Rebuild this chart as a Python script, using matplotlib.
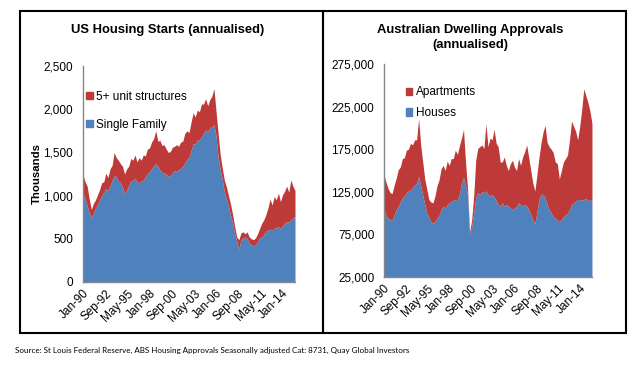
import numpy as np
import matplotlib.pyplot as plt
from matplotlib.patches import Patch, Rectangle

# quarterly readings, Jan-90 to Jul-15
us_total = [1240, 1160, 1110, 960, 840, 910, 950, 1010, 1070, 1150, 1160, 1260,
            1210, 1310, 1350, 1500, 1440, 1410, 1370, 1340, 1250, 1310, 1340, 1430,
            1410, 1470, 1390, 1440, 1410, 1470, 1460, 1540, 1550, 1620, 1660, 1750,
            1630, 1640, 1580, 1590, 1540, 1500, 1510, 1560, 1570, 1590, 1570, 1620,
            1630, 1720, 1750, 1730, 1850, 1960, 1910, 1990, 1970, 2060, 2060, 2120,
            2040, 2110, 2150, 2240, 1980, 1720, 1480, 1320, 1180, 1100, 1000, 900,
            780, 640, 520, 490, 570, 580, 560, 580, 520, 500, 490, 510,
            560, 620, 680, 720, 780, 860, 960, 890, 990, 950, 1030, 930,
            1010, 1050, 1110, 1040, 1180, 1110, 1060]
us_single = [1030, 960, 880, 800, 740, 800, 850, 900, 950, 1000, 1040, 1080,
             1060, 1110, 1180, 1230, 1220, 1170, 1150, 1100, 1020, 1060, 1120, 1170,
             1180, 1200, 1160, 1150, 1170, 1180, 1220, 1250, 1280, 1310, 1340, 1370,
             1340, 1300, 1270, 1260, 1250, 1220, 1230, 1260, 1290, 1280, 1300, 1320,
             1340, 1380, 1420, 1440, 1520, 1600, 1600, 1640, 1650, 1680, 1720, 1760,
             1740, 1780, 1800, 1820, 1690, 1450, 1300, 1190, 1040, 960, 880, 770,
             680, 560, 470, 380, 490, 510, 520, 500, 450, 430, 420, 430,
             470, 510, 520, 550, 590, 600, 610, 600, 620, 630, 640, 620,
             650, 680, 700, 690, 720, 740, 760]

au_total = [145000, 136000, 129000, 124000, 123000, 133000, 141000, 151000,
            154000, 164000, 165000, 174000, 175000, 182000, 180000, 186000,
            186000, 211000, 180000, 160000, 140000, 128000, 116000, 113000,
            112000, 120000, 132000, 139000, 152000, 156000, 150000, 161000,
            156000, 164000, 164000, 174000, 169000, 179000, 188000, 198000,
            160000, 128000, 78000, 92000, 120000, 162000, 176000, 178000,
            180000, 176000, 205000, 178000, 188000, 186000, 198000, 182000,
            178000, 160000, 160000, 166000, 156000, 150000, 158000, 162000,
            154000, 150000, 164000, 156000, 166000, 172000, 180000, 165000,
            150000, 135000, 126000, 145000, 165000, 182000, 195000, 203000,
            183000, 178000, 175000, 171000, 160000, 158000, 140000, 150000,
            160000, 164000, 168000, 186000, 208000, 202000, 196000, 186000,
            202000, 222000, 246000, 238000, 230000, 220000, 205000]
au_houses = [104000, 97000, 94000, 92000, 92000, 98000, 104000, 108000,
             113000, 118000, 120000, 124000, 126000, 127000, 130000, 133000,
             135000, 143000, 132000, 121000, 110000, 100000, 95000, 90000,
             88000, 90000, 94000, 97000, 104000, 108000, 106000, 110000,
             112000, 114000, 115000, 116000, 116000, 122000, 135000, 142000,
             132000, 122000, 75000, 84000, 100000, 118000, 124000, 122000,
             125000, 124000, 126000, 122000, 120000, 122000, 119000, 115000,
             110000, 108000, 112000, 108000, 110000, 108000, 106000, 104000,
             106000, 108000, 112000, 110000, 108000, 110000, 108000, 104000,
             98000, 92000, 88000, 100000, 116000, 122000, 122000, 118000,
             110000, 104000, 100000, 96000, 94000, 92000, 90000, 92000,
             96000, 98000, 100000, 104000, 110000, 112000, 114000, 116000,
             116000, 115000, 116000, 117000, 114000, 116000, 114000]

tick_labels = ['Jan-90', 'Sep-92', 'May-95', 'Jan-98', 'Sep-00',
               'May-03', 'Jan-06', 'Sep-08', 'May-11', 'Jan-14']

RED = '#BE3A38'
BLUE = '#4F81BD'
GREY = '#868686'

months = np.arange(len(us_total)) * 3
tick_pos = np.arange(len(tick_labels)) * 32

fig = plt.figure(figsize=(6.37, 3.71), dpi=100)
plt.rcParams['font.family'] = ['Liberation Sans', 'DejaVu Sans']


def style_axis(ax):
    for s in ['top', 'right']:
        ax.spines[s].set_visible(False)
    for s in ['left', 'bottom']:
        ax.spines[s].set_color(GREY)
        ax.spines[s].set_linewidth(1)
    ax.tick_params(length=0, labelsize=8.5, pad=4)
    ax.tick_params(axis='y', pad=7)
    ax.set_xticks(tick_pos)
    ax.set_xticklabels(tick_labels, rotation=45, ha='right', rotation_mode='anchor')
    ax.set_xlim(0, months[-1])


# US chart
ax1 = fig.add_axes([0.1303, 0.2399, 0.3328, 0.5822])
ax1.fill_between(months, 0, us_single, color=BLUE, lw=0)
ax1.fill_between(months, us_single, us_total, color=RED, lw=0)
ax1.set_ylim(0, 2500)
ax1.set_yticks(np.arange(0, 2501, 500))
ax1.yaxis.set_major_formatter(plt.FuncFormatter(lambda v, p: f'{v:,.0f}'))
ax1.set_ylabel('Thousands', fontsize=8.2, fontweight='bold', labelpad=1)
style_axis(ax1)
ax1.legend(handles=[Patch(color=RED, label='5+ unit structures'),
                    Patch(color=BLUE, label='Single Family')],
           loc='upper left', bbox_to_anchor=(0.015, 0.885), frameon=False,
           fontsize=8.5, handlelength=0.55, handleheight=0.55, handletextpad=0.3,
           labelspacing=1.35, borderpad=0, borderaxespad=0)

# Australian chart
ax2 = fig.add_axes([0.6028, 0.2534, 0.3265, 0.5741])
ax2.fill_between(months, 0, au_houses, color=BLUE, lw=0)
ax2.fill_between(months, au_houses, au_total, color=RED, lw=0)
ax2.set_ylim(25000, 275000)
ax2.set_yticks(np.arange(25000, 275001, 50000))
ax2.yaxis.set_major_formatter(plt.FuncFormatter(lambda v, p: f'{v:,.0f}'))
style_axis(ax2)
ax2.legend(handles=[Patch(color=RED, label='Apartments'),
                    Patch(color=BLUE, label='Houses')],
           loc='upper left', bbox_to_anchor=(0.105, 0.895), frameon=False,
           fontsize=8.5, handlelength=0.55, handleheight=0.55, handletextpad=0.3,
           labelspacing=0.75, borderpad=0, borderaxespad=0)

# titles
fig.text(168 / 637, 1 - 30 / 371, 'US Housing Starts (annualised)', ha='center', va='center',
         fontsize=9.4, fontweight='bold')
fig.text(470 / 637, 1 - 30 / 371, 'Australian Dwelling Approvals', ha='center',
         va='center', fontsize=9.4, fontweight='bold')
fig.text(470 / 637, 1 - 45 / 371, '(annualised)', ha='center',
         va='center', fontsize=9.4, fontweight='bold')

# panel borders
for x0 in [20, 323]:
    fig.add_artist(Rectangle((x0 / 637, 1 - 333 / 371), 303 / 637, 322 / 371,
                             transform=fig.transFigure, fill=False, ec='black', lw=1.5))

fig.text(15 / 637, 1 - 350 / 371,
         'Source: St Louis Federal Reserve, ABS Housing Approvals Seasonally adjusted Cat: 8731, Quay Global Investors',
         fontsize=5.75, family=['Lato', 'DejaVu Sans'], va='center')

fig.savefig('out.png', dpi=100)
